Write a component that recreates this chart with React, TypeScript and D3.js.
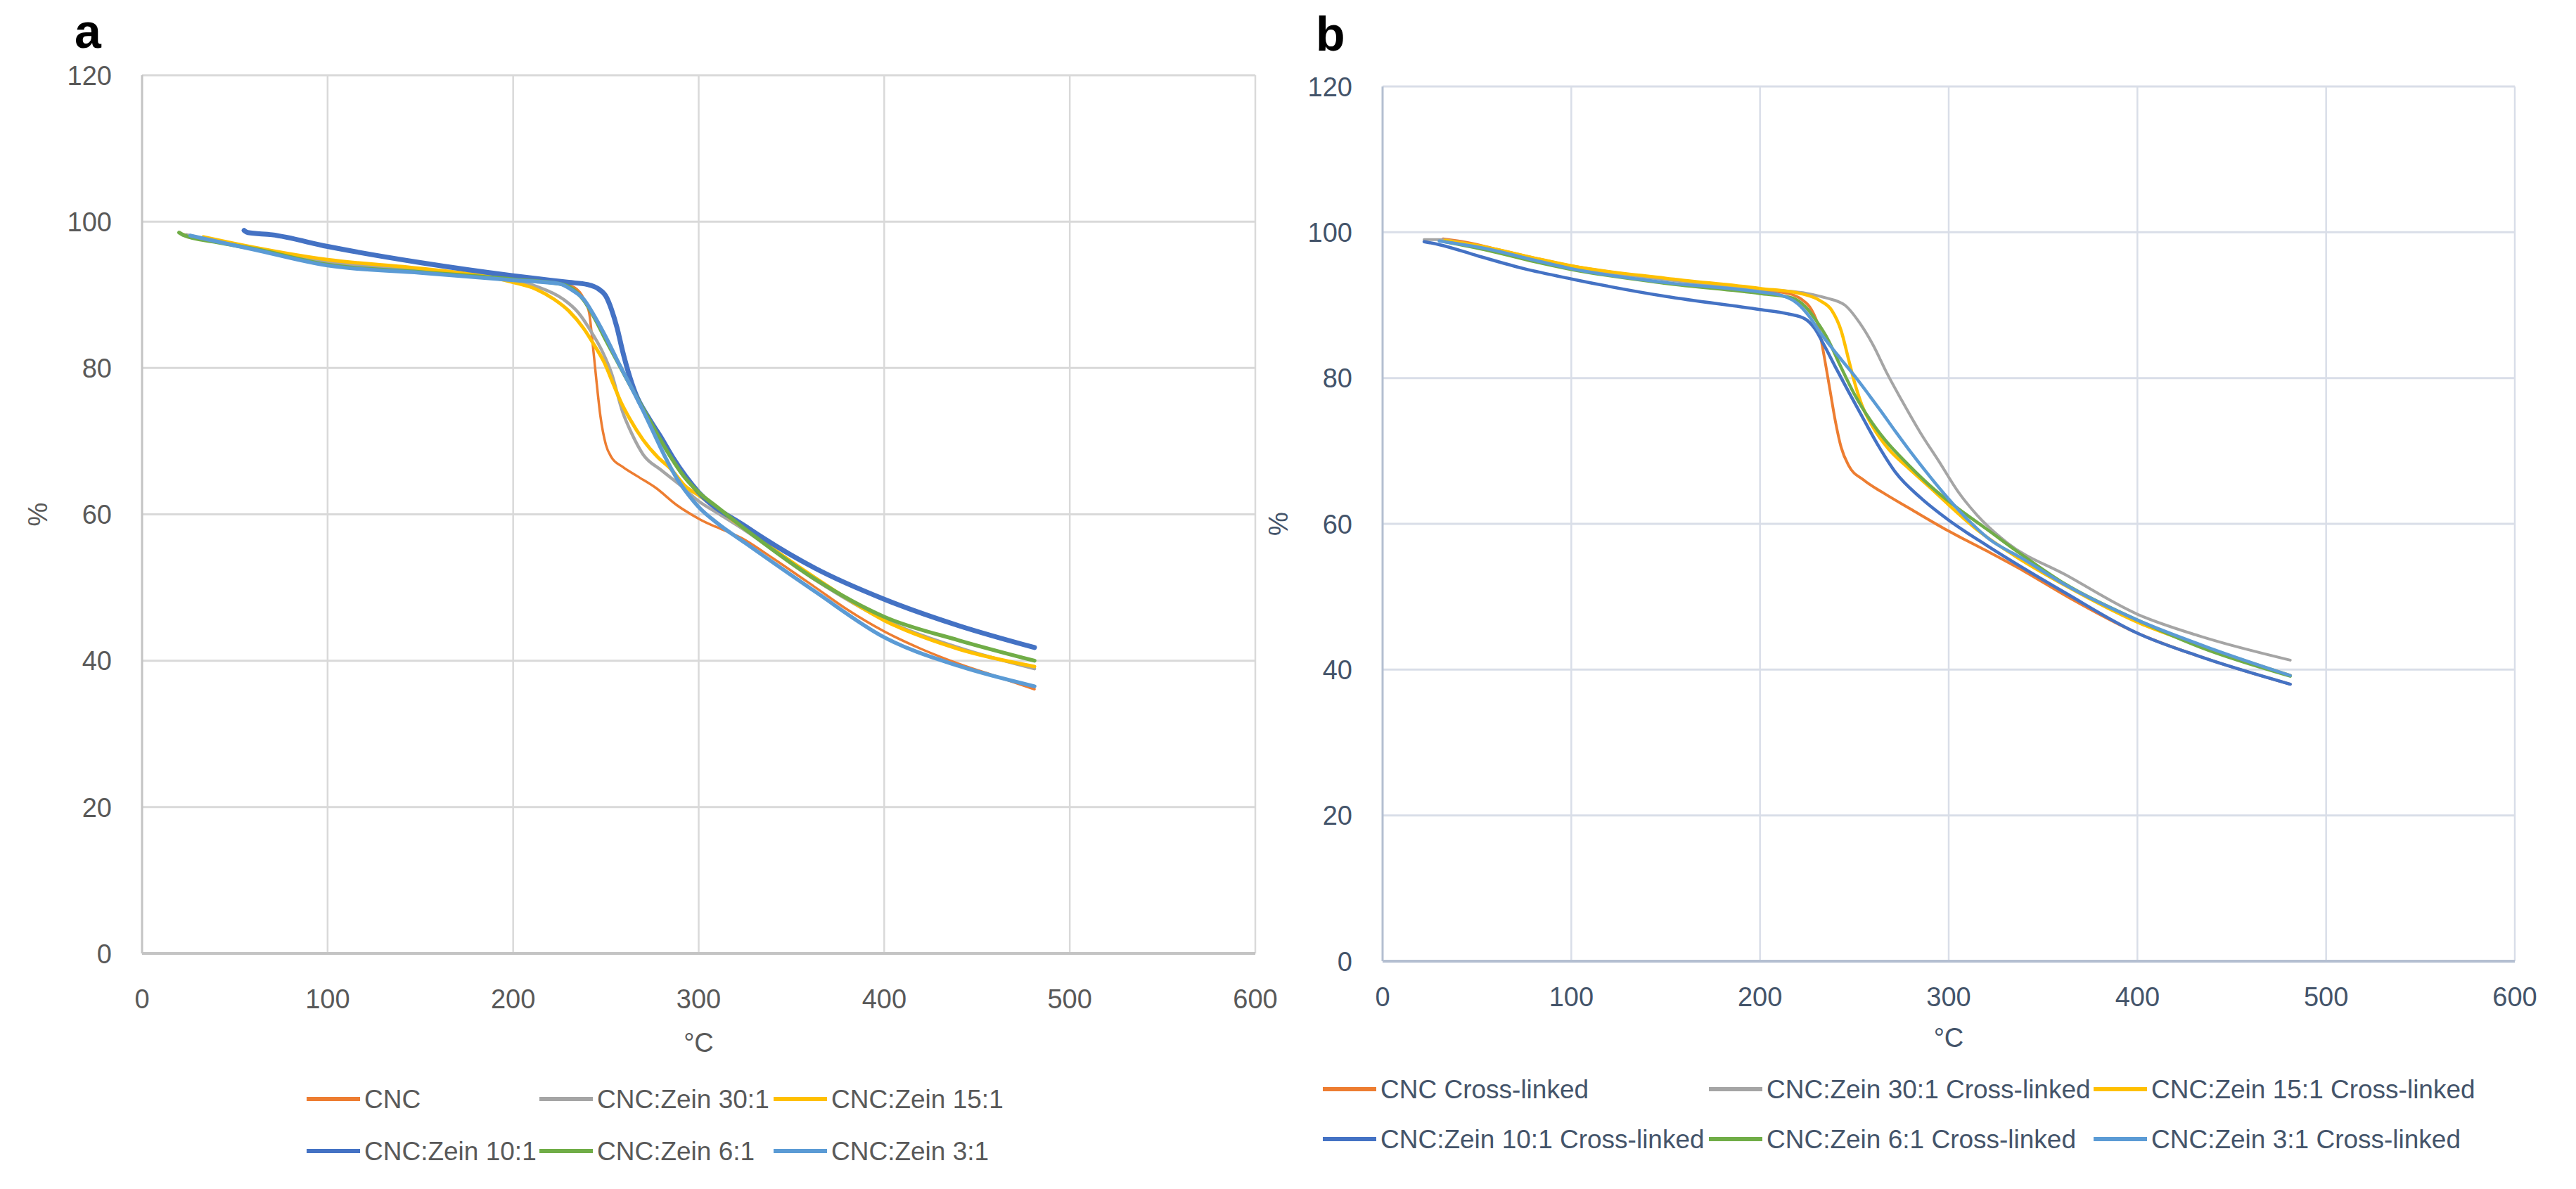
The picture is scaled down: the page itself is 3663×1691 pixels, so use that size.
import { useEffect, useRef } from "react";
import * as d3 from "d3";

// ---- data (temperature °C, weight %) ----
const seriesNamesA = ["CNC", "CNC:Zein 30:1", "CNC:Zein 15:1", "CNC:Zein 10:1", "CNC:Zein 6:1", "CNC:Zein 3:1"];
const seriesNamesB = ["CNC Cross-linked", "CNC:Zein 30:1 Cross-linked", "CNC:Zein 15:1 Cross-linked",
  "CNC:Zein 10:1 Cross-linked", "CNC:Zein 6:1 Cross-linked", "CNC:Zein 3:1 Cross-linked"];
const colors = ["#ED7D31", "#A5A5A5", "#FFC000", "#4472C4", "#70AD47", "#5B9BD5"];
const xTicks = [0, 100, 200, 300, 400, 500, 600];
const yTicks = [0, 20, 40, 60, 80, 100, 120];

const aCNC: [number, number][] = [[22,98.3],[40,97.2],[60,96.2],[100,94.3],[150,93.2],[200,92.2],[225,91.6],[233,91.0],[238,89.5],[241,87.5],[243,83],[245,78],[247,73.5],[250,69.5],[253,67.8],[259,66.5],[267,65.2],[277,63.6],[288,61.3],[300,59.4],[325,56.5],[340,54],[363,50],[380,47],[400,44],[420,41.6],[440,39.6],[460,37.9],[481,36.1]];
const aZ30: [number, number][] = [[24,98.2],[50,96.8],[100,94.5],[150,93.3],[200,92.1],[212,91.2],[227,89.4],[235,87.6],[242,85],[248,82.3],[253,79.3],[259,74],[264,71],[270,68.2],[280,66],[290,64],[300,61.8],[310,60.2],[325,57.8],[363,51],[400,45.6],[440,41.8],[481,38.9]];
const aZ15: [number, number][] = [[33,97.9],[50,97],[100,94.8],[150,93.6],[190,92.3],[200,91.7],[212,90.8],[222,89.4],[230,87.8],[238,85.4],[244,83],[249,80.8],[254,77.8],[258,75.4],[263,73],[270,70.2],[278,67.8],[285,66.2],[293,63.8],[300,62.6],[325,58],[363,51.3],[400,45.5],[440,41.6],[481,39.2]];
const aZ10: [number, number][] = [[55,98.8],[57,98.5],[70,98.2],[100,96.6],[150,94.4],[200,92.6],[230,91.7],[240,91.4],[246,90.8],[250,89.8],[253,88],[256,85.5],[259,82.3],[262,79.5],[266,76.5],[273,73.2],[280,70.4],[286,67.8],[293,65.2],[300,63],[325,58.4],[363,52.6],[400,48.4],[440,44.8],[481,41.8]];
const aZ6: [number, number][] = [[20,98.5],[22,98.2],[40,97.2],[60,96.3],[100,94.1],[150,93.1],[200,92.1],[225,91.5],[232,90.8],[238,89.3],[244,86.8],[250,83.8],[257,80.5],[264,77.2],[271,74],[278,70.8],[285,67.8],[292,65.2],[300,63],[310,61],[325,58],[363,51.1],[400,46],[440,42.8],[481,40]];
const aZ3: [number, number][] = [[26,98.1],[40,97.3],[60,96.2],[100,94],[150,93],[200,92],[225,91.5],[232,90.6],[238,89.4],[244,87],[250,84.2],[257,80.6],[264,77.2],[270,74.2],[276,71],[282,67.8],[288,65],[295,62.5],[300,61],[310,58.8],[325,56.1],[363,49.4],[400,43.2],[440,39.3],[481,36.5]];

const bCNC: [number, number][] = [[32,99.1],[45,98.6],[60,97.7],[80,96.5],[100,95.4],[150,93.6],[200,92.1],[215,91.6],[222,90.8],[227,89.5],[231,87],[234,83],[237,78.5],[240,74],[243,70.5],[247,68],[255,66],[265,64.3],[280,62],[300,59],[320,56.3],[340,53.5],[363,50],[400,45],[440,41.2],[481,38]];
const bZ30: [number, number][] = [[22,99],[30,99],[50,98.1],[80,96.4],[100,95.3],[150,93.5],[200,92.2],[225,91.6],[235,91],[245,90],[253,87.5],[260,84.5],[267,80.8],[275,77],[285,72.5],[295,68.5],[305,64.4],[315,61.2],[331,57.4],[362,53],[400,47.6],[433,44.6],[481,41.3]];
const bZ15: [number, number][] = [[33,98.9],[50,98.2],[80,96.5],[100,95.4],[150,93.7],[200,92.3],[223,91.5],[232,90.6],[238,89.3],[243,86.5],[247,82.5],[250,79.5],[254,76.3],[260,73.2],[268,70.3],[278,67.8],[290,65],[300,62.6],[314,59.4],[335,55.6],[362,51.5],[400,46.5],[440,42.7],[481,39.2]];
const bZ10: [number, number][] = [[22,98.7],[30,98.3],[50,96.8],[75,95],[100,93.6],[150,91.2],[200,89.4],[215,88.8],[224,88.1],[229,86.8],[234,84.5],[240,81.5],[247,78.1],[255,74.3],[263,70.6],[272,67],[285,63.6],[300,60.5],[321,56.9],[362,50.5],[400,45],[433,41.8],[481,38]];
const bZ6: [number, number][] = [[33,98.7],[56,97.5],[80,96],[100,94.9],[150,93],[200,91.6],[217,91],[224,89.8],[230,87.8],[236,85.3],[242,82],[250,77.8],[258,74.4],[266,71.6],[279,68],[292,64.8],[305,62.1],[320,59.3],[338,55.9],[362,51.7],[400,46.8],[433,43.1],[481,39.1]];
const bZ3: [number, number][] = [[30,98.8],[56,97.7],[80,96.2],[100,95],[150,93.1],[200,91.8],[212,91.3],[220,90.2],[226,88.5],[232,86.2],[241,83.2],[251,80],[258,77.6],[264,75.5],[272,72.6],[280,69.8],[290,66.5],[300,63.4],[310,60.6],[322,57.8],[338,55.4],[362,51.6],[400,46.8],[440,42.8],[481,39.2]];

type PanelCfg = {
  letter: string; letterX: number; letterY: number;
  x0: number; x1: number; yTop: number; yBot: number;
  data: [number, number][][]; names: string[]; widths: number[];
  grid: string; axis: string; text: string;
  legendCols: number[]; legendRows: number[];
  xLabelY: number; tickY: number;
};

const FONT = "'Liberation Sans', Arial, sans-serif";

function drawPanel(svg: d3.Selection<SVGSVGElement, unknown, null, undefined>, c: PanelCfg) {
  const x = d3.scaleLinear().domain([0, 600]).range([c.x0, c.x1]);
  const y = d3.scaleLinear().domain([0, 120]).range([c.yBot, c.yTop]);
  const g = svg.append("g");

  // gridlines
  g.selectAll("line.h").data(yTicks.filter(t => t > 0)).enter().append("line")
    .attr("x1", c.x0).attr("x2", c.x1).attr("y1", d => y(d)).attr("y2", d => y(d))
    .attr("stroke", c.grid).attr("stroke-width", 3);
  g.selectAll("line.v").data(xTicks.filter(t => t > 0)).enter().append("line")
    .attr("x1", d => x(d)).attr("x2", d => x(d)).attr("y1", c.yTop).attr("y2", c.yBot)
    .attr("stroke", c.grid).attr("stroke-width", 2.5);
  // axes
  g.append("line").attr("x1", c.x0).attr("x2", c.x0).attr("y1", c.yTop).attr("y2", c.yBot)
    .attr("stroke", c.axis).attr("stroke-width", 3);
  g.append("line").attr("x1", c.x0).attr("x2", c.x1).attr("y1", c.yBot).attr("y2", c.yBot)
    .attr("stroke", c.axis).attr("stroke-width", 4);

  // tick labels
  g.selectAll("text.yt").data(yTicks).enter().append("text")
    .attr("x", c.x0 - 43).attr("y", d => y(d)).attr("dy", "0.36em")
    .attr("text-anchor", "end").attr("font-family", FONT).attr("font-size", 38)
    .attr("fill", c.text).text(d => d);
  g.selectAll("text.xt").data(xTicks).enter().append("text")
    .attr("x", d => x(d)).attr("y", c.tickY).attr("dy", "0.36em")
    .attr("text-anchor", "middle").attr("font-family", FONT).attr("font-size", 38)
    .attr("fill", c.text).text(d => d);

  // axis titles
  g.append("text").attr("x", (c.x0 + c.x1) / 2).attr("y", c.xLabelY).attr("dy", "0.36em")
    .attr("text-anchor", "middle").attr("font-family", FONT).attr("font-size", 38)
    .attr("fill", c.text).text("°C");
  g.append("text")
    .attr("transform", `translate(${c.x0 - 149},${(c.yTop + c.yBot) / 2}) rotate(-90)`)
    .attr("dy", "0.36em").attr("text-anchor", "middle").attr("font-family", FONT)
    .attr("font-size", 38).attr("fill", c.text).text("%");

  // panel letter
  svg.append("text").attr("x", c.letterX).attr("y", c.letterY)
    .attr("font-family", FONT).attr("font-weight", "bold").attr("font-size", 68)
    .attr("fill", "#000").text(c.letter);

  // series
  const line = d3.line<[number, number]>()
    .x(d => x(d[0])).y(d => y(d[1]))
    .curve(d3.curveMonotoneX);
  g.selectAll("path.series").data(c.data).enter().append("path")
    .attr("fill", "none")
    .attr("stroke", (_, i) => colors[i])
    .attr("stroke-width", (_, i) => c.widths[i])
    .attr("stroke-linejoin", "round").attr("stroke-linecap", "round")
    .attr("d", d => line(d));

  // legend
  c.names.forEach((name, i) => {
    const lx = c.legendCols[i % 3];
    const ly = c.legendRows[Math.floor(i / 3)];
    g.append("line").attr("x1", lx).attr("x2", lx + 76).attr("y1", ly).attr("y2", ly)
      .attr("stroke", colors[i]).attr("stroke-width", 6);
    g.append("text").attr("x", lx + 82).attr("y", ly).attr("dy", "0.36em")
      .attr("font-family", FONT).attr("font-size", 37).attr("fill", c.text).text(name);
  });
}

export default function App() {
  const svgRef = useRef<SVGSVGElement>(null);

  useEffect(() => {
    if (!svgRef.current) return;
    const svg = d3.select(svgRef.current);
    svg.selectAll("*").remove();
    svg.append("rect").attr("width", 3663).attr("height", 1691).attr("fill", "#fff");

    drawPanel(svg, {
      letter: "a", letterX: 106, letterY: 68,
      x0: 202, x1: 1785, yTop: 107, yBot: 1356,
      data: [aCNC, aZ30, aZ15, aZ10, aZ6, aZ3], names: seriesNamesA,
      widths: [3.5, 4.5, 5, 7, 5.5, 5.5],
      grid: "#d9d9d9", axis: "#c4c4c4", text: "#595959",
      legendCols: [436, 767, 1100], legendRows: [1563, 1637],
      xLabelY: 1482, tickY: 1420,
    });
    drawPanel(svg, {
      letter: "b", letterX: 1871, letterY: 72,
      x0: 1966, x1: 3576, yTop: 123, yBot: 1367,
      data: [bCNC, bZ30, bZ15, bZ10, bZ6, bZ3], names: seriesNamesB,
      widths: [4, 4, 4.5, 4.5, 4.5, 4.5],
      grid: "#d9dee8", axis: "#b4bfd1", text: "#44546a",
      legendCols: [1881, 2430, 2977], legendRows: [1549, 1620],
      xLabelY: 1475, tickY: 1417,
    });
  }, []);

  return (
    <svg ref={svgRef} width={3663} height={1691}
      style={{ position: "absolute", left: 0, top: 0, display: "block" }} />
  );
}
